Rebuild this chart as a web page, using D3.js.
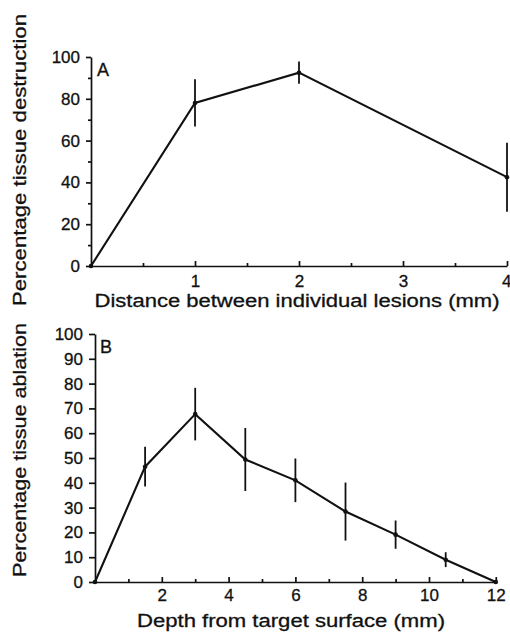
<!DOCTYPE html>
<html>
<head>
<meta charset="utf-8">
<script src="https://cdn.jsdelivr.net/npm/d3@7"></script>
<style>
  html, body { margin: 0; padding: 0; background: #fff; }
  svg { display: block; }
  text { font-family: "Liberation Sans", Arial, sans-serif; fill: #111; stroke: #111; stroke-width: 0.3px; }
  .tick text { font-size: 17px; }
</style>
</head>
<body>
<svg id="chart" width="510" height="632"></svg>
<script>
// ---- Panel A data ----
const distA = [0, 1, 2, 4];
const valA = [0, 78, 92.5, 42.5];
const errA = [0, 11.3, 5.3, 16.5];
const yTicksA = [0, 20, 40, 60, 80, 100];
const yMinorA = [10, 30, 50, 70, 90];
const xTicksA = [1, 2, 3, 4];
const xMinorA = [0.5, 1.5, 2.5, 3.5];

// ---- Panel B data ----
const depthB = [0, 1.5, 3, 4.5, 6, 7.5, 9, 10.5, 12];
const valB = [0, 46.5, 67.7, 49.4, 41, 28.4, 19.1, 9, 0];
const errB = [0, 8, 10.6, 12.7, 8.8, 11.7, 5.7, 3, 0];
const yTicksB = [0, 10, 20, 30, 40, 50, 60, 70, 80, 90, 100];
const xTicksB = [2, 4, 6, 8, 10, 12];
const xMinorB = [1, 3, 5, 7, 9, 11];

const svg = d3.select("#chart");
const fmt = d3.format("d");

function panel(cfg) {
  const g = svg.append("g");
  const x = d3.scaleLinear().domain(cfg.xDomain).range(cfg.xRange);
  const y = d3.scaleLinear().domain([0, 100]).range(cfg.yRange);

  if (cfg.yMinor) {
    g.append("g").attr("transform", `translate(${cfg.xRange[0]},0)`)
      .call(d3.axisLeft(y).tickValues(cfg.yMinor).tickSize(3).tickFormat(""))
      .call(s => s.select(".domain").remove());
  }
  g.append("g").attr("transform", `translate(${cfg.xRange[0]},0)`)
    .call(d3.axisLeft(y).tickValues(cfg.yTicks).tickFormat(fmt).tickSize(cfg.yTickSize).tickSizeOuter(0).tickPadding(cfg.yPad));

  g.append("g").attr("transform", `translate(0,${cfg.yRange[0]})`)
    .call(d3.axisBottom(x).tickValues(cfg.xMinor).tickSize(-3).tickFormat(""))
    .call(s => s.select(".domain").remove());
  const xa = g.append("g").attr("transform", `translate(0,${cfg.yRange[0]})`)
    .call(d3.axisBottom(x).tickValues(cfg.xTicks).tickFormat(fmt).tickSize(-5).tickSizeOuter(0).tickPadding(cfg.xPad));

  g.selectAll(".tick text")
    .style("font-family", "Liberation Sans, Arial, sans-serif")
    .style("font-size", "17px").attr("fill", "#111");
  if (cfg.lastEnd) {
    xa.selectAll(".tick:last-of-type text").attr("text-anchor", "end").attr("x", 4);
  }
  g.selectAll(".domain, .tick line").attr("stroke", "#111").attr("stroke-width", 1.7);

  g.selectAll("line.err").data(cfg.xs.map((d, i) => i).filter(i => cfg.errs[i] > 0))
    .enter().append("line").attr("class", "err")
    .attr("x1", i => x(cfg.xs[i])).attr("x2", i => x(cfg.xs[i]))
    .attr("y1", i => y(cfg.vals[i] - cfg.errs[i])).attr("y2", i => y(cfg.vals[i] + cfg.errs[i]))
    .attr("stroke", "#111").attr("stroke-width", 1.8);

  const line = d3.line().x((d, i) => x(cfg.xs[i])).y(d => y(d));
  g.append("path").datum(cfg.vals).attr("d", line)
    .attr("fill", "none").attr("stroke", "#111").attr("stroke-width", 2.1)
    .attr("stroke-linejoin", "miter");

  g.selectAll("circle").data(cfg.vals).enter().append("circle")
    .attr("cx", (d, i) => x(cfg.xs[i])).attr("cy", d => y(d)).attr("r", 2.3).attr("fill", "#111");

  g.append("text").attr("x", cfg.letterX).attr("y", cfg.letterY)
    .style("font-size", "18px").text(cfg.letter);

  g.append("text").attr("x", cfg.xTitleX).attr("y", cfg.xTitleY).attr("text-anchor", "middle")
    .attr("textLength", cfg.xTitleLen).attr("lengthAdjust", "spacingAndGlyphs")
    .style("font-size", "18px").text(cfg.xTitle);

  g.append("text").attr("transform", `translate(${cfg.yTitleX},${cfg.yTitleY}) rotate(-90)`)
    .attr("text-anchor", "middle")
    .attr("textLength", cfg.yTitleLen).attr("lengthAdjust", "spacingAndGlyphs")
    .style("font-size", "18px").text(cfg.yTitle);
}

panel({
  xDomain: [0, 4], xRange: [91, 507], yRange: [266, 57],
  xs: distA, vals: valA, errs: errA,
  yTicks: yTicksA, yMinor: yMinorA, xTicks: xTicksA, xMinor: xMinorA,
  yTickSize: 5, yPad: 6, xPad: 9, lastEnd: true,
  letter: "A", letterX: 97, letterY: 76,
  xTitle: "Distance between individual lesions (mm)", xTitleX: 297, xTitleY: 307, xTitleLen: 405,
  yTitle: "Percentage tissue destruction", yTitleX: 26, yTitleY: 160, yTitleLen: 292
});

panel({
  xDomain: [0, 12], xRange: [95, 495.8], yRange: [582, 334],
  xs: depthB, vals: valB, errs: errB,
  yTicks: yTicksB, yMinor: null, xTicks: xTicksB, xMinor: xMinorB,
  yTickSize: 6, yPad: 6, xPad: 7, lastEnd: false,
  letter: "B", letterX: 100, letterY: 353,
  xTitle: "Depth from target surface (mm)", xTitleX: 291, xTitleY: 627, xTitleLen: 308,
  yTitle: "Percentage tissue ablation", yTitleX: 26, yTitleY: 450, yTitleLen: 254
});
</script>
</body>
</html>
